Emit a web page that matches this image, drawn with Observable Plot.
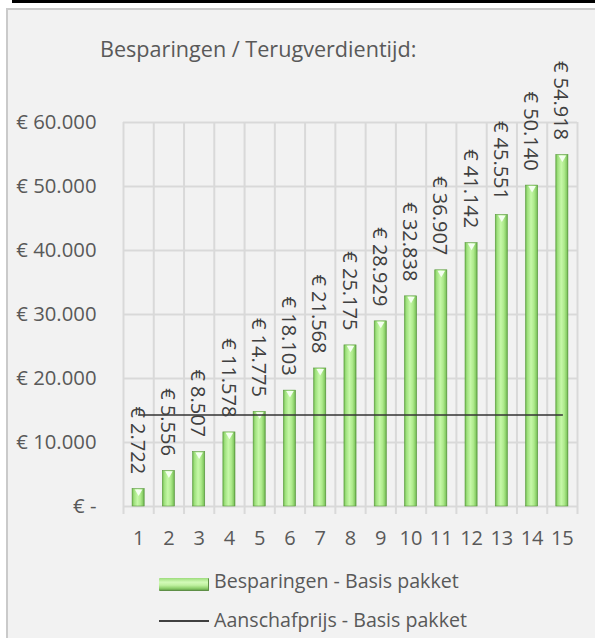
<!DOCTYPE html>
<html>
<head>
<meta charset="utf-8">
<script src="https://cdn.jsdelivr.net/npm/d3@7"></script>
<script src="https://cdn.jsdelivr.net/npm/@observablehq/plot@0.6"></script>
<style>
  body { margin: 0; background: #ffffff; font-family: "Open Sans", sans-serif; }
  #page { position: relative; width: 595px; height: 638px; overflow: hidden; }
  #topline { position: absolute; left: 12px; top: 0; width: 583px; height: 3px; background: #000; }
  #frame { position: absolute; left: 6px; top: 8px; width: 600px; height: 640px; background: #f2f2f2;
           border-left: 2px solid #cacaca; border-top: 2px solid #cacaca; }
  #chart { position: absolute; left: 0; top: 0; }
  #title { position: absolute; left: 100px; top: 38px; font-size: 21.6px; line-height: 21.6px; color: #595959; white-space: nowrap; }
  .legtext { position: absolute; left: 214px; font-size: 19.6px; line-height: 19.6px; color: #595959; white-space: nowrap; }
  #sw1 { position: absolute; left: 159px; top: 578px; width: 49px; height: 12px; border-radius: 1px;
         background: linear-gradient(to bottom, #9ddc7c 0%, #d2fab8 35%, #bff1a0 60%, #8fd06d 85%, #6aa84f 100%);
         border-right: 1px solid #5e8f46; border-bottom: 1px solid #5e8f46; }
  #sw2 { position: absolute; left: 159px; top: 620px; width: 50px; height: 2px; background: #404040; }
</style>
</head>
<body>
<div id="page">
  <div id="topline"></div>
  <div id="frame"></div>
  <div id="chart"></div>
  <div id="title">Besparingen / Terugverdientijd:</div>
  <div id="sw1"></div>
  <div class="legtext" style="top:571px">Besparingen - Basis pakket</div>
  <div id="sw2"></div>
  <div class="legtext" style="top:610px">Aanschafprijs - Basis pakket</div>
</div>
<script>
const years = [1, 2, 3, 4, 5, 6, 7, 8, 9, 10, 11, 12, 13, 14, 15];
const savings = [2722, 5556, 8507, 11578, 14775, 18103, 21568, 25175, 28929, 32838, 36907, 41142, 45551, 50140, 54918];
const purchasePrice = [14300, 14300, 14300, 14300, 14300, 14300, 14300, 14300, 14300, 14300, 14300, 14300, 14300, 14300, 14300];
const yTicks = [0, 10000, 20000, 30000, 40000, 50000, 60000];

const data = years.map((year, i) => ({ year, saving: savings[i], price: purchasePrice[i] }));
const bounds = [years[0] - 0.5, ...years.map(y => y + 0.5)];
const fmt = v => v === 0 ? "€ -" : "€ " + d3.format(",")(v).replace(/,/g, ".");

const chart = Plot.plot({
  width: 595,
  height: 560,
  marginTop: 122,
  marginBottom: 54,
  marginLeft: 123,
  marginRight: 18,
  style: { background: "transparent", fontFamily: "Open Sans, sans-serif", overflow: "visible" },
  x: { type: "linear", domain: [0.5, 15.5], label: null },
  y: { domain: [0, 60000], label: null },
  marks: [
    Plot.ruleY(yTicks, { stroke: "#d9d9d9", strokeWidth: 2 }),
    Plot.ruleX(bounds, { y1: 0, y2: 60000, stroke: "#d9d9d9", strokeWidth: 2 }),
    Plot.axisX(bounds, { tickSize: 8, stroke: "#d9d9d9", strokeWidth: 2, tickFormat: () => "", label: null }),
    Plot.axisX(years, { tickSize: 0, tickPadding: 24, fontSize: 20, fill: "#595959", tickFormat: d => String(d), label: null }),
    Plot.axisY(yTicks, { tickSize: 0, tickPadding: 27, fontSize: 20.3, fill: "#595959", tickFormat: fmt, label: null }),
    Plot.rectY(data, { x1: d => d.year - 0.2, x2: d => d.year + 0.2, y1: 0, y2: "saving",
                       fill: "url(#barGrad)", stroke: "#5a9a3e", strokeWidth: 0.6 }),
    Plot.dot(data, { x: "year", y: "saving", symbol: "triangle", rotate: 180, r: 2.8, fill: "#f4fff0", dy: 2.6 }),
    Plot.lineY(data, { x: "year", y: "price", stroke: "#333333", strokeWidth: 1.5 }),
    Plot.text(data, { x: "year", y: "saving", text: d => fmt(d.saving), rotate: 90, textAnchor: "end",
                      dy: -15, dx: -1.5, fontSize: 20, fill: "#404040" })
  ]
});

d3.select(chart).insert("defs", ":first-child").html(
  `<linearGradient id="barGrad" x1="0" x2="1" y1="0" y2="0">
     <stop offset="0%" stop-color="#6cb84a"/>
     <stop offset="15%" stop-color="#9ee07c"/>
     <stop offset="45%" stop-color="#c6f8a8"/>
     <stop offset="70%" stop-color="#aeea8c"/>
     <stop offset="90%" stop-color="#86cc64"/>
     <stop offset="100%" stop-color="#5c9c42"/>
   </linearGradient>`
);

document.getElementById("chart").appendChild(chart);
</script>
</body>
</html>
